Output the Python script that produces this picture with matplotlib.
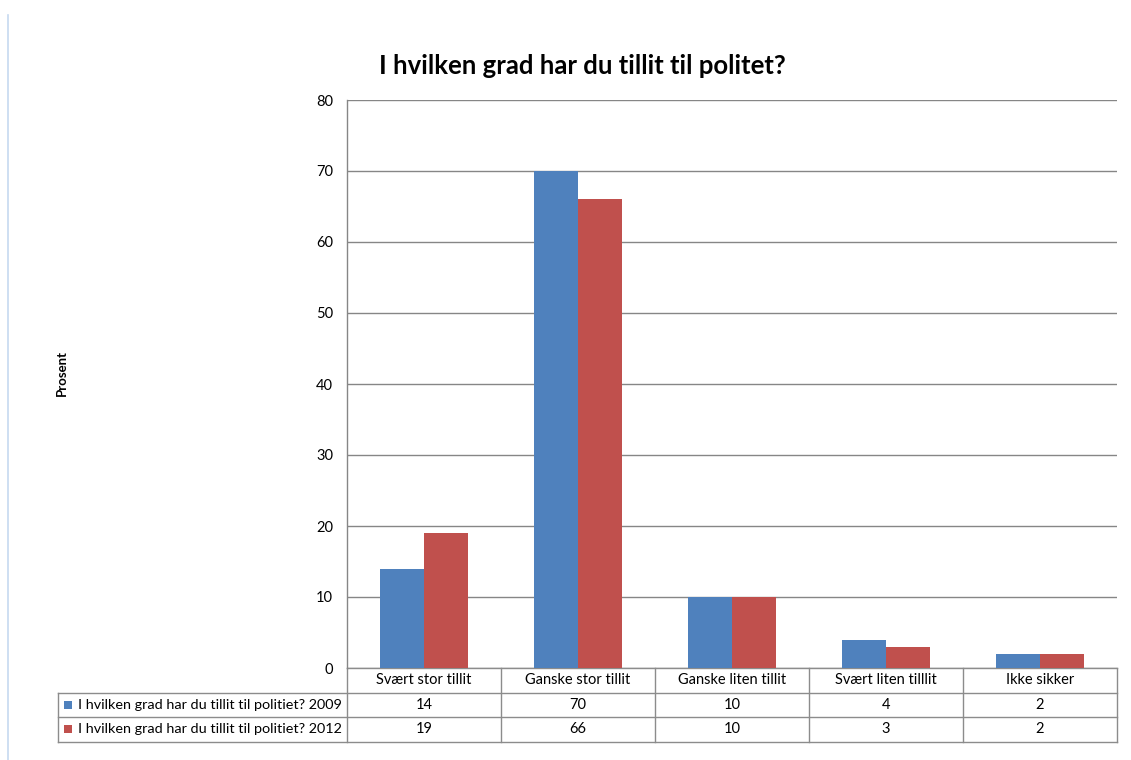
import matplotlib
matplotlib.use("Agg")
import matplotlib.pyplot as plt
from matplotlib.lines import Line2D
import numpy as np

plt.rcParams['font.family'] = ['Lato', 'DejaVu Sans']

# Survey data: trust in the police (percent)
categories = ["Svært stor tillit", "Ganske stor tillit", "Ganske liten tillit",
              "Svært liten tilllit", "Ikke sikker"]
series_names = ["I hvilken grad har du tillit til politiet? 2009",
                "I hvilken grad har du tillit til politiet? 2012"]
values_2009 = [14, 70, 10, 4, 2]
values_2012 = [19, 66, 10, 3, 2]
y_ticks = [0, 10, 20, 30, 40, 50, 60, 70, 80]

title = "I hvilken grad har du tillit til politet?"
y_label = "Prosent"

colors = ["#4F81BD", "#C0504D"]
grid_color = "#868686"
table_color = "#8C8C8C"

W, H = 1131, 760
fig = plt.figure(figsize=(W / 100, H / 100), dpi=100)

# Plot area in pixel terms
left_px, right_px, top_px, bottom_px = 347, 1117, 100, 668
ax = fig.add_axes([left_px / W, 1 - bottom_px / H,
                   (right_px - left_px) / W, (bottom_px - top_px) / H])

n = len(categories)
x = np.arange(n)
bar_w = 1 / 3.5  # gap width 150%
ax.bar(x - bar_w / 2, values_2009, width=bar_w, color=colors[0], zorder=3)
ax.bar(x + bar_w / 2, values_2012, width=bar_w, color=colors[1], zorder=3)

ax.set_xlim(-0.5, n - 0.5)
ax.set_ylim(0, 80)
ax.set_yticks(y_ticks)
ax.set_yticklabels([str(t) for t in y_ticks], fontsize=10.5)
ax.set_xticks([])
ax.yaxis.grid(True, color=grid_color, linewidth=1.0, zorder=0)
ax.tick_params(axis='y', length=0, pad=10)
for s in ["top", "right", "bottom"]:
    ax.spines[s].set_visible(False)
ax.spines["left"].set_color(grid_color)
ax.spines["left"].set_linewidth(1.0)

# Title and axis label
fig.text(582 / W, 1 - 66 / H, title, ha="center", va="center",
         fontsize=18.5, fontweight="bold")
fig.text(62 / W, 1 - 373 / H, y_label, ha="center", va="center",
         rotation=90, fontsize=9.5, fontweight="bold")

# Data table underneath the plot
row_h = 24.5 / (bottom_px - top_px)  # row height in axes fraction
legend_left = (58 - left_px) / (right_px - left_px)
col_edges = np.linspace(0, 1, n + 1)
tr = ax.transAxes
lw = 1.0

def hline(y, x0, x1):
    ax.add_line(Line2D([x0, x1], [y, y], transform=tr, color=table_color,
                       linewidth=lw, clip_on=False))

def vline(xp, y0, y1):
    ax.add_line(Line2D([xp, xp], [y0, y1], transform=tr, color=table_color,
                       linewidth=lw, clip_on=False))

hline(0, 0, 1)
for r in range(1, 4):
    hline(-r * row_h, legend_left, 1)
for ce in col_edges:
    vline(ce, 0, -3 * row_h)
vline(legend_left, -row_h, -3 * row_h)

centers = (col_edges[:-1] + col_edges[1:]) / 2
for c, cat in zip(centers, categories):
    ax.text(c, -0.5 * row_h, cat, transform=tr, ha="center", va="center",
            fontsize=10.5)
for r, vals in enumerate([values_2009, values_2012]):
    yc = -(r + 1.5) * row_h
    for c, v in zip(centers, vals):
        ax.text(c, yc, str(v), transform=tr, ha="center", va="center",
                fontsize=10.5)
    key_x = (67.5 - left_px) / (right_px - left_px)
    ax.plot([key_x], [yc], marker="s", markersize=6, color=colors[r],
            markeredgewidth=0, transform=tr, clip_on=False, linestyle="none")
    ax.text((77.5 - left_px) / (right_px - left_px), yc, series_names[r],
            transform=tr, ha="left", va="center", fontsize=10.4)

# Thin page border on the left
fig.add_artist(Line2D([8 / W, 8 / W], [0, 1 - 15 / H], color="#C6D9F0",
                      linewidth=1.2, transform=fig.transFigure))

fig.savefig("out.png", dpi=100)
